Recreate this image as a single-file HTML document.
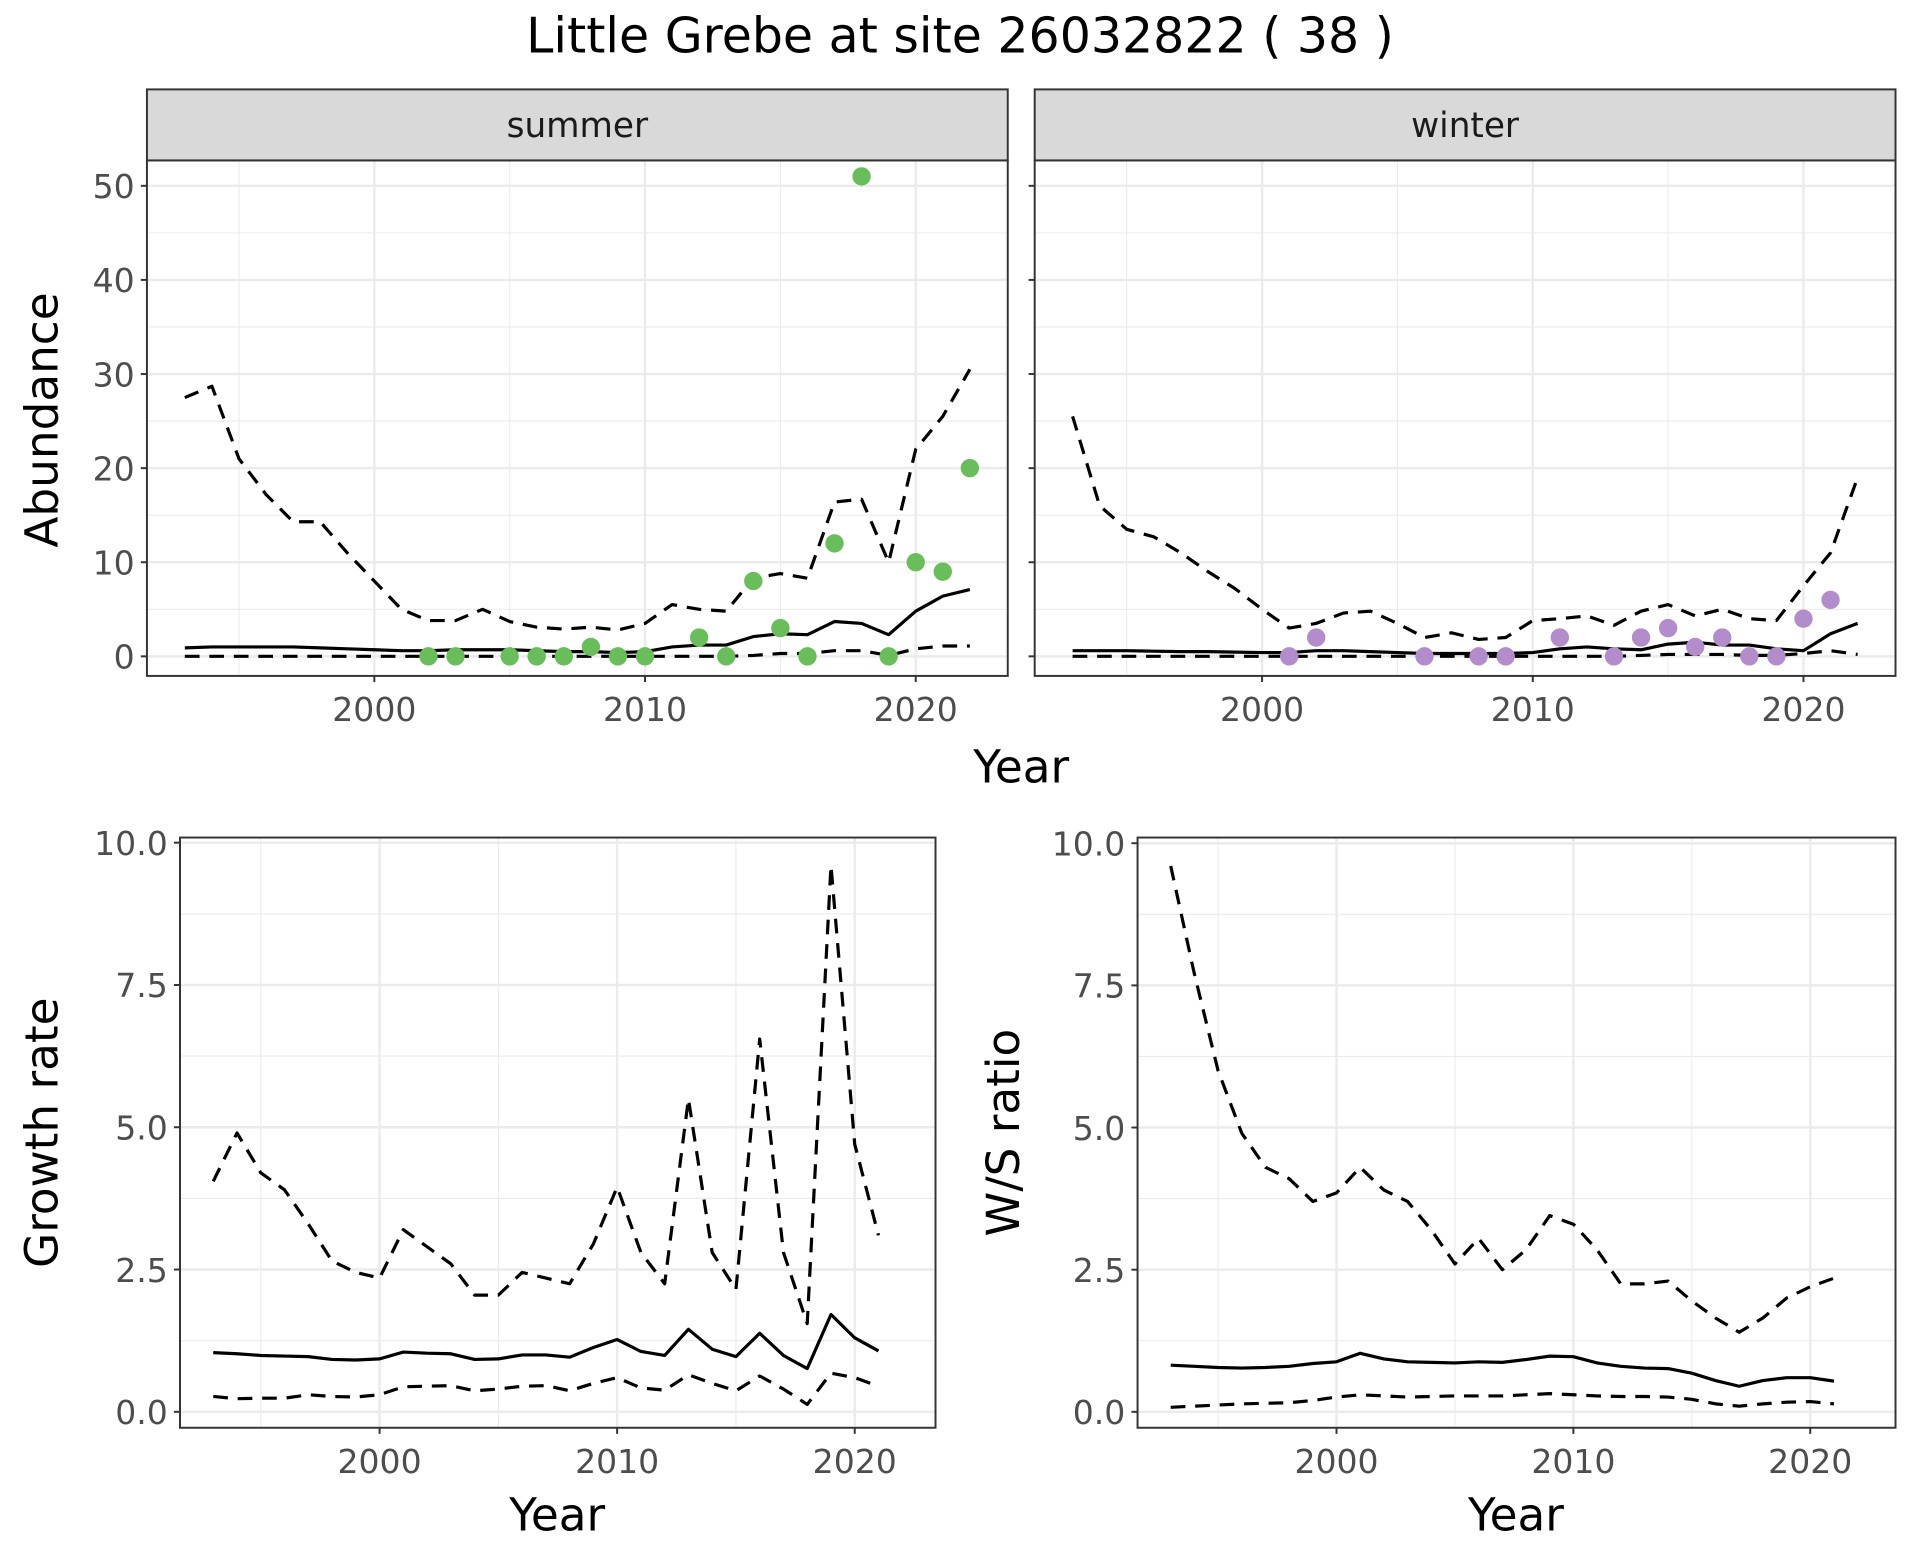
<!DOCTYPE html>
<html><head><meta charset="utf-8">
<style>
html,body{margin:0;padding:0;background:#fff;}
svg{display:block;font-family:"DejaVu Sans","Liberation Sans",sans-serif;}
</style></head>
<body>
<svg id="chart" width="1920" height="1560" viewBox="0 0 1568 1274" preserveAspectRatio="none" xmlns="http://www.w3.org/2000/svg">
<text x="784" y="43" text-anchor="middle" font-size="40" fill="#000">Little Grebe at site 26032822 ( 38 )</text>
</svg>
<script>
const yearsA = [1993,1994,1995,1996,1997,1998,1999,2000,2001,2002,2003,2004,2005,2006,2007,2008,2009,2010,2011,2012,2013,2014,2015,2016,2017,2018,2019,2020,2021,2022];
const sumUpper = [27.5,28.7,21,17.2,14.3,14.3,11,8,5,3.8,3.8,5,3.7,3.1,2.9,3.1,2.8,3.5,5.5,5,4.8,8.3,8.8,8.3,16.4,16.7,10,22,25.5,30.5];
const sumMean = [0.9,1.0,1.0,1.0,1.0,0.9,0.8,0.7,0.6,0.6,0.7,0.7,0.7,0.6,0.5,0.5,0.4,0.5,1.0,1.2,1.2,2.1,2.4,2.3,3.7,3.5,2.3,4.8,6.4,7.1];
const sumLower = [0,0,0,0,0,0,0,0,0,0,0,0,0,0,0,0,0,0,0,0,0,0.1,0.3,0.3,0.6,0.6,0.1,0.8,1.1,1.1];
const sumPtYears = [2002,2003,2005,2006,2007,2008,2009,2010,2012,2013,2014,2015,2016,2017,2018,2019,2020,2021,2022];
const sumPtVals = [0,0,0,0,0,1,0,0,2,0,8,3,0,12,51,0,10,9,20];
const winUpper = [25.5,16,13.5,12.7,11,9,7.2,5,3,3.5,4.6,4.8,3.5,2,2.5,1.8,2,3.8,4,4.3,3.3,4.8,5.5,4.3,5,4,3.8,7.5,11,19];
const winMean = [0.6,0.6,0.6,0.55,0.5,0.5,0.45,0.4,0.4,0.6,0.6,0.5,0.4,0.3,0.3,0.3,0.3,0.4,0.8,1.0,0.8,0.7,1.3,1.5,1.2,1.2,0.8,0.6,2.4,3.5];
const winLower = [0,0,0,0,0,0,0,0,0,0,0,0,0,0,0,0,0,0,0,0,0,0.1,0.2,0.2,0.2,0.1,0.1,0.3,0.6,0.2];
const winPtYears = [2001,2002,2006,2008,2009,2011,2013,2014,2015,2016,2017,2018,2019,2020,2021];
const winPtVals = [0,2,0,0,0,2,0,2,3,1,2,0,0,4,6];
const yearsB = [1993,1994,1995,1996,1997,1998,1999,2000,2001,2002,2003,2004,2005,2006,2007,2008,2009,2010,2011,2012,2013,2014,2015,2016,2017,2018,2019,2020,2021];
const grUpper = [4.05,4.9,4.2,3.9,3.3,2.65,2.45,2.35,3.2,2.9,2.6,2.05,2.05,2.45,2.35,2.25,2.95,3.95,2.8,2.25,5.5,2.8,2.15,6.55,2.8,1.55,9.6,4.7,3.1];
const grMean = [1.04,1.02,0.99,0.98,0.97,0.92,0.91,0.93,1.05,1.03,1.02,0.92,0.93,1.0,1.0,0.96,1.13,1.27,1.06,0.99,1.45,1.1,0.97,1.38,0.99,0.76,1.71,1.3,1.07];
const grLower = [0.27,0.23,0.24,0.24,0.3,0.27,0.26,0.3,0.44,0.45,0.46,0.37,0.4,0.45,0.46,0.37,0.5,0.6,0.42,0.38,0.65,0.5,0.37,0.63,0.4,0.13,0.68,0.6,0.45];
const wsUpper = [9.6,7.7,6.0,4.9,4.3,4.1,3.7,3.85,4.3,3.9,3.7,3.2,2.6,3.05,2.5,2.85,3.45,3.3,2.85,2.25,2.25,2.3,1.95,1.65,1.4,1.65,2.0,2.2,2.35];
const wsMean = [0.82,0.8,0.78,0.77,0.78,0.8,0.85,0.88,1.03,0.93,0.88,0.87,0.86,0.88,0.87,0.92,0.98,0.97,0.86,0.8,0.77,0.76,0.68,0.55,0.45,0.55,0.6,0.6,0.54];
const wsLower = [0.08,0.1,0.12,0.14,0.15,0.16,0.2,0.26,0.3,0.28,0.26,0.27,0.28,0.28,0.28,0.3,0.32,0.3,0.28,0.27,0.27,0.26,0.22,0.14,0.1,0.14,0.17,0.18,0.14];
const xTicks = [2000,2010,2020];
const xMinor = [1995,2005,2015];
const abTicks = [0,10,20,30,40,50];
const abMinor = [5,15,25,35,45];
const rTicks = [0,2.5,5,7.5,10];
const rTickLabels = ["0.0","2.5","5.0","7.5","10.0"];
const rMinor = [1.25,3.75,6.25,8.75];

const svg = document.getElementById('chart');
const NS = 'http://www.w3.org/2000/svg';
function mk(tag, attrs, parent){const e=document.createElementNS(NS,tag);for(const k in attrs)e.setAttribute(k,attrs[k]);(parent||svg).appendChild(e);return e;}

function panel(cfg){
  const g = mk('g',{});
  
  
  const xs = v => cfg.x0 + (v - cfg.xmin)/(cfg.xmax-cfg.xmin)*(cfg.x1-cfg.x0);
  const ys = v => cfg.y1 - (v - cfg.ymin)/(cfg.ymax-cfg.ymin)*(cfg.y1-cfg.y0);
  mk('rect',{x:cfg.x0,y:cfg.y0,width:cfg.x1-cfg.x0,height:cfg.y1-cfg.y0,fill:'#fff'},g);
  cfg.yMinor.forEach(v=>mk('line',{x1:cfg.x0,x2:cfg.x1,y1:ys(v),y2:ys(v),stroke:'#ebebeb','stroke-width':0.9},g));
  xMinor.forEach(v=>mk('line',{x1:xs(v),x2:xs(v),y1:cfg.y0,y2:cfg.y1,stroke:'#ebebeb','stroke-width':0.9},g));
  cfg.yTicks.forEach(v=>mk('line',{x1:cfg.x0,x2:cfg.x1,y1:ys(v),y2:ys(v),stroke:'#ebebeb','stroke-width':2},g));
  xTicks.forEach(v=>mk('line',{x1:xs(v),x2:xs(v),y1:cfg.y0,y2:cfg.y1,stroke:'#ebebeb','stroke-width':2},g));
  const line=(vals,yrs,dash,nm)=>{
    const p = mk('polyline',{points:vals.map((v,i)=>xs(yrs[i])+','+ys(v)).join(' '),fill:'none',stroke:'#000','stroke-width':2.6,'stroke-dasharray':dash?'12,8':'none','stroke-linejoin':'round'},g);
    
    
  };
  line(cfg.upper,cfg.years,true,cfg.name+'-upper-ci');
  line(cfg.lower,cfg.years,true,cfg.name+'-lower-ci');
  line(cfg.mean,cfg.years,false,cfg.name+'-mean');
  if(cfg.ptYears){
    cfg.ptYears.forEach((yr,i)=>{
      const c = mk('circle',{cx:xs(yr),cy:ys(cfg.ptVals[i]),r:7.5,fill:cfg.ptColor},g);
      
      
    });
  }
  mk('rect',{x:cfg.x0,y:cfg.y0,width:cfg.x1-cfg.x0,height:cfg.y1-cfg.y0,fill:'none',stroke:'#333','stroke-width':1.6},g);
  if(cfg.strip){
    mk('rect',{x:cfg.x0,y:cfg.y0-58,width:cfg.x1-cfg.x0,height:58,fill:'#d9d9d9',stroke:'#333','stroke-width':1.6},g);
    const t = mk('text',{x:(cfg.x0+cfg.x1)/2,y:cfg.y0-19,'text-anchor':'middle','font-size':28,fill:'#1a1a1a'},g);
    t.textContent = cfg.strip;
    
    
  }
  cfg.yTicks.forEach((v,i)=>{
    mk('line',{x1:cfg.x0-5,x2:cfg.x0,y1:ys(v),y2:ys(v),stroke:'#333','stroke-width':1.6},g);
    if(cfg.showY){
      const t = mk('text',{x:cfg.x0-10,y:ys(v)+10,'text-anchor':'end','font-size':27,fill:'#4d4d4d'},g);
      t.textContent = cfg.yLabels ? cfg.yLabels[i] : v;
      
      
    }
  });
  xTicks.forEach(v=>{
    mk('line',{x1:xs(v),x2:xs(v),y1:cfg.y1,y2:cfg.y1+5,stroke:'#333','stroke-width':1.6},g);
    const t = mk('text',{x:xs(v),y:cfg.y1+37,'text-anchor':'middle','font-size':27,fill:'#4d4d4d'},g);
    t.textContent = v;
    
    
  });
}

panel({name:'summer-panel',x0:120,x1:823,y0:131,y1:552,xmin:1991.6,xmax:2023.4,ymin:-2.08,ymax:52.7,yTicks:abTicks,yMinor:abMinor,
  years:yearsA,upper:sumUpper,mean:sumMean,lower:sumLower,ptYears:sumPtYears,ptVals:sumPtVals,ptColor:'#6abd5b',strip:'summer',showY:true});
panel({name:'winter-panel',x0:845,x1:1548,y0:131,y1:552,xmin:1991.6,xmax:2023.4,ymin:-2.08,ymax:52.7,yTicks:abTicks,yMinor:abMinor,
  years:yearsA,upper:winUpper,mean:winMean,lower:winLower,ptYears:winPtYears,ptVals:winPtVals,ptColor:'#b38dcb',strip:'winter',showY:false});
panel({name:'growth-rate-panel',x0:147,x1:764,y0:684,y1:1166,xmin:1991.6,xmax:2023.4,ymin:-0.28,ymax:10.09,yTicks:rTicks,yLabels:rTickLabels,yMinor:rMinor,
  years:yearsB,upper:grUpper,mean:grMean,lower:grLower,showY:true});
panel({name:'ws-ratio-panel',x0:929,x1:1548,y0:684,y1:1166,xmin:1991.6,xmax:2023.6,ymin:-0.28,ymax:10.1,yTicks:rTicks,yLabels:rTickLabels,yMinor:rMinor,
  years:yearsB,upper:wsUpper,mean:wsMean,lower:wsLower,showY:true});

function label(txt,x,y,rot,name){
  const t = mk('text',{x:x,y:y,'text-anchor':'middle','font-size':37,fill:'#000',transform:rot?`rotate(-90 ${x} ${y})`:''});
  t.textContent = txt;
  
  
}
label('Abundance',47,343,true,'y-axis-title-abundance');
label('Year',834,639,false,'x-axis-title-top');
label('Growth rate',47,925,true,'y-axis-title-growth');
label('Year',455,1250,false,'x-axis-title-growth');
label('W/S ratio',832,925,true,'y-axis-title-ws');
label('Year',1238,1250,false,'x-axis-title-ws');
</script>
</body></html>
